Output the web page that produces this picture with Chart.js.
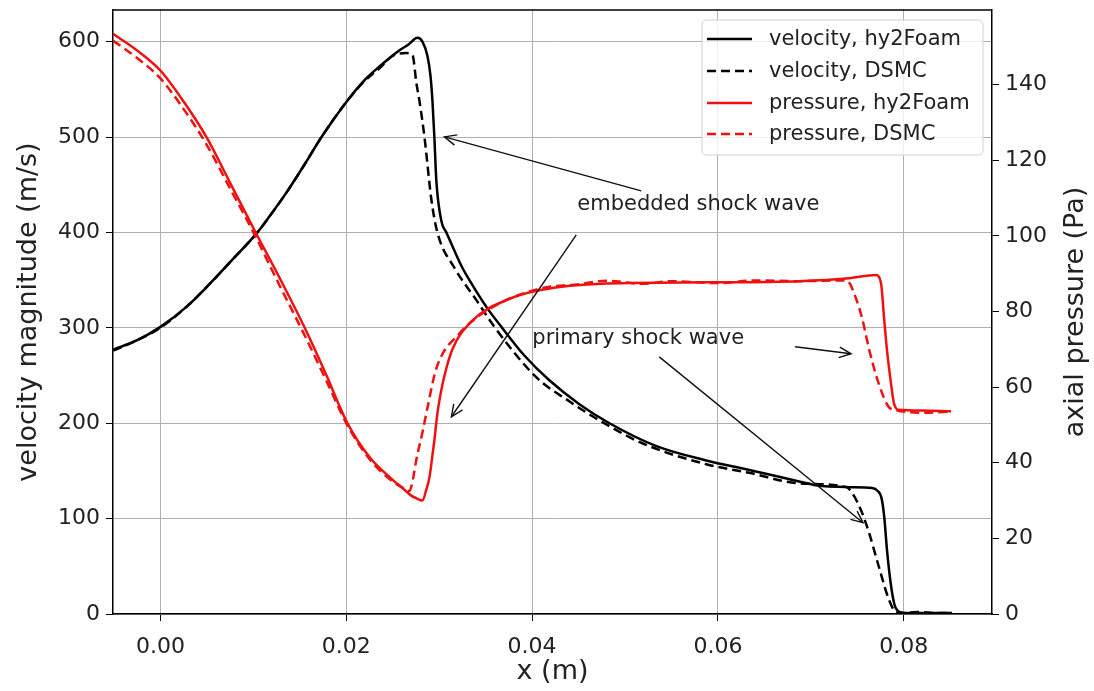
<!DOCTYPE html>
<html>
<head>
<meta charset="utf-8">
<script src="https://cdn.jsdelivr.net/npm/chart.js@4.4.1/dist/chart.umd.min.js"></script>
<style>
html,body{margin:0;padding:0;background:#fff;}
canvas{display:block;}
</style>
</head>
<body>
<canvas id="c" width="1094" height="691"></canvas>
<script>
// ---- data ----
const xTicks = [0.00, 0.02, 0.04, 0.06, 0.08];
const velocityTicks = [0, 100, 200, 300, 400, 500, 600];
const pressureTicks = [0, 20, 40, 60, 80, 100, 120, 140];

const velHyX = [-0.0051, -0.0025, 0.0, 0.0028, 0.0053, 0.0078, 0.01035, 0.01175, 0.01358, 0.0155, 0.01734, 0.02003, 0.0220, 0.02358, 0.0248, 0.02573, 0.0267, 0.02767, 0.0282, 0.02874, 0.02906, 0.02928, 0.02949, 0.0297, 0.03024, 0.03078, 0.03164, 0.0325, 0.03326, 0.03508, 0.0367, 0.03917, 0.04186, 0.04509, 0.04833, 0.05339, 0.05874, 0.06337, 0.06874, 0.07057, 0.07411, 0.07659, 0.0772, 0.0776, 0.0779, 0.0782, 0.0786, 0.0790, 0.0793, 0.0796, 0.0800, 0.0815, 0.0835, 0.0852];
const velHyY = [277, 287, 301, 322, 346, 372, 399, 417, 442, 471, 500, 537, 560, 574, 584, 591, 597, 604, 600, 585, 565, 538, 499, 454, 412, 400, 381, 363, 350, 322, 301, 271, 245, 220, 200, 176, 161, 151, 139, 135, 133, 132, 129, 122, 102, 67, 32, 10, 4, 2, 1, 1, 1, 1];

const velDsX = [-0.0051, -0.0025, 0.0, 0.0028, 0.0053, 0.0078, 0.01035, 0.01175, 0.01358, 0.0155, 0.01734, 0.02003, 0.0220, 0.02358, 0.02497, 0.02648, 0.02713, 0.02756, 0.02788, 0.02842, 0.02917, 0.02981, 0.03164, 0.03401, 0.03595, 0.04047, 0.0440, 0.04724, 0.05186, 0.05874, 0.06337, 0.06874, 0.0738, 0.07445, 0.07552, 0.07627, 0.07734, 0.07841, 0.07917, 0.0800, 0.0815, 0.0835, 0.0852];
const velDsY = [276, 287, 300, 322, 346, 372, 399, 417, 442, 471, 500, 537, 559, 572, 585, 588, 586, 556, 538, 500, 434, 400, 363, 329, 301, 248, 223, 203, 179, 157, 148, 137, 133, 127, 106, 85, 49, 15, 2, 1, 2, 1, 1];

const presHyX = [-0.0051, -0.0025, 0.0, 0.0025, 0.00498, 0.0075, 0.01014, 0.0128, 0.01551, 0.0178, 0.02014, 0.0225, 0.02466, 0.0262, 0.0270, 0.02756, 0.0282, 0.02863, 0.02895, 0.02928, 0.02949, 0.02981, 0.03014, 0.03057, 0.03143, 0.03358, 0.03724, 0.04078, 0.04799, 0.05874, 0.06874, 0.0738, 0.07627, 0.07702, 0.07756, 0.07788, 0.0782, 0.07863, 0.07895, 0.07949, 0.0820, 0.08509];
const presHyY = [153.4, 149.0, 143.7, 135.5, 126.0, 114.0, 101.4, 89.0, 75.8, 63.5, 50.4, 41.5, 36.2, 33.0, 31.3, 30.6, 30.0, 33.0, 36.0, 42.0, 46.0, 53.0, 58.0, 63.0, 70.0, 77.6, 83.0, 85.6, 87.4, 87.7, 88.0, 88.7, 89.5, 89.6, 87.4, 78.4, 69.7, 61.0, 55.7, 54.0, 53.8, 53.6];

const presDsX = [-0.0051, -0.0025, 0.0, 0.0025, 0.0050, 0.0075, 0.0101, 0.0128, 0.0155, 0.0178, 0.0201, 0.0225, 0.0247, 0.0262, 0.02681, 0.02713, 0.02756, 0.0282, 0.02874, 0.02971, 0.0322, 0.03573, 0.0408, 0.0450, 0.0480, 0.0520, 0.0550, 0.0600, 0.0640, 0.0688, 0.0738, 0.0741, 0.0744, 0.0755, 0.0763, 0.0773, 0.0784, 0.0792, 0.0820, 0.0851];
const presDsY = [151.6, 147.0, 141.6, 133.5, 124.0, 112.5, 100.5, 87.0, 73.8, 62.0, 50.0, 41.0, 35.6, 33.2, 32.5, 35.0, 41.0, 48.0, 54.5, 65.0, 74.2, 81.1, 86.0, 87.2, 88.1, 87.3, 88.0, 87.5, 88.2, 88.0, 88.2, 87.7, 86.4, 78.4, 69.7, 61.0, 54.7, 53.9, 53.2, 53.5];

const seriesNames = ['velocity, hy2Foam', 'velocity, DSMC', 'pressure, hy2Foam', 'pressure, DSMC'];

// annotation anchors in data units (x in m, y in velocity units)
const annotations = [
  { text: 'embedded shock wave', x: 0.04487, y: 428.9,
    arrows: [[0.05175, 443.6, 0.03057, 500.2], [0.04476, 397.5, 0.03132, 206.8]] },
  { text: 'primary shock wave', x: 0.04003, y: 288.5,
    arrows: [[0.05369, 269.6, 0.07562, 95.7], [0.06831, 280.1, 0.07433, 272.8]] }
];

// ---- styling ----
const FONT = 'DejaVu Sans';
const RED = '#f01010';
const DASH = [9, 5];
const pts = (xs, ys) => xs.map((x, i) => ({ x: x, y: ys[i] }));

const framePlugin = {
  id: 'frame',
  afterDatasetsDraw(chart) {
    const ctx = chart.ctx;
    const xs = chart.scales.x, ys = chart.scales.y;
    ctx.save();
    ctx.strokeStyle = '#111';
    ctx.fillStyle = '#222';
    ctx.lineWidth = 1.4;
    ctx.font = '21px "' + FONT + '"';
    ctx.textBaseline = 'middle';
    ctx.textAlign = 'left';
    annotations.forEach(a => {
      ctx.fillText(a.text, xs.getPixelForValue(a.x), ys.getPixelForValue(a.y));
      a.arrows.forEach(ar => {
        const x0 = xs.getPixelForValue(ar[0]), y0 = ys.getPixelForValue(ar[1]);
        const x1 = xs.getPixelForValue(ar[2]), y1 = ys.getPixelForValue(ar[3]);
        ctx.beginPath(); ctx.moveTo(x0, y0); ctx.lineTo(x1, y1); ctx.stroke();
        const ang = Math.atan2(y1 - y0, x1 - x0), L = 13, w = 0.42;
        ctx.beginPath();
        ctx.moveTo(x1 - L * Math.cos(ang - w), y1 - L * Math.sin(ang - w));
        ctx.lineTo(x1, y1);
        ctx.lineTo(x1 - L * Math.cos(ang + w), y1 - L * Math.sin(ang + w));
        ctx.stroke();
      });
    });
    // top spine
    const ca = chart.chartArea;
    ctx.strokeStyle = '#000';
    ctx.lineWidth = 1.5;
    ctx.beginPath(); ctx.moveTo(ca.left, ca.top); ctx.lineTo(ca.right, ca.top); ctx.stroke();
    ctx.restore();
  },
  afterDraw(chart) {
    const ctx = chart.ctx;
    ctx.save();
    // right axis title (reads bottom to top)
    ctx.fillStyle = '#222';
    ctx.font = '27px "' + FONT + '"';
    ctx.textAlign = 'center';
    ctx.textBaseline = 'middle';
    ctx.translate(1076, 312);
    ctx.rotate(-Math.PI / 2);
    ctx.fillText('axial pressure (Pa)', 0, 0);
    ctx.restore();

    // legend
    ctx.save();
    const bx = 702, by = 20, bw = 281, bh = 135, r = 5;
    ctx.beginPath();
    ctx.moveTo(bx + r, by); ctx.lineTo(bx + bw - r, by); ctx.quadraticCurveTo(bx + bw, by, bx + bw, by + r);
    ctx.lineTo(bx + bw, by + bh - r); ctx.quadraticCurveTo(bx + bw, by + bh, bx + bw - r, by + bh);
    ctx.lineTo(bx + r, by + bh); ctx.quadraticCurveTo(bx, by + bh, bx, by + bh - r);
    ctx.lineTo(bx, by + r); ctx.quadraticCurveTo(bx, by, bx + r, by);
    ctx.closePath();
    ctx.fillStyle = 'rgba(255,255,255,0.8)';
    ctx.fill();
    ctx.strokeStyle = '#d0d0d0';
    ctx.lineWidth = 1;
    ctx.stroke();
    const rows = [39, 71, 103, 134];
    chart.data.datasets.forEach((ds, i) => {
      ctx.strokeStyle = ds.borderColor;
      ctx.lineWidth = 2.5;
      ctx.setLineDash(ds.borderDash || []);
      ctx.beginPath(); ctx.moveTo(707, rows[i]); ctx.lineTo(752, rows[i]); ctx.stroke();
      ctx.setLineDash([]);
      ctx.fillStyle = '#222';
      ctx.font = '21px "' + FONT + '"';
      ctx.textAlign = 'left';
      ctx.textBaseline = 'middle';
      ctx.fillText(ds.label, 769, rows[i] + 1);
    });
    ctx.restore();
  }
};

const common = { pointRadius: 0, borderWidth: 2.5, fill: false, showLine: true, cubicInterpolationMode: 'monotone' };
const noPadY = s => { s.paddingTop = 0; s.paddingBottom = 0; };

new Chart(document.getElementById('c'), {
  type: 'scatter',
  data: {
    datasets: [
      Object.assign({ label: seriesNames[0], data: pts(velHyX, velHyY), borderColor: '#000', yAxisID: 'y', order: 2 }, common),
      Object.assign({ label: seriesNames[1], data: pts(velDsX, velDsY), borderColor: '#000', borderDash: DASH, yAxisID: 'y', order: 3 }, common),
      Object.assign({ label: seriesNames[2], data: pts(presHyX, presHyY), borderColor: RED, yAxisID: 'y2', order: 0 }, common),
      Object.assign({ label: seriesNames[3], data: pts(presDsX, presDsY), borderColor: RED, borderDash: DASH, yAxisID: 'y2', order: 1 }, common)
    ]
  },
  options: {
    responsive: false,
    animation: false,
    devicePixelRatio: 1,
    layout: { padding: { top: 10, left: 0, right: 0, bottom: 0 } },
    plugins: { legend: { display: false }, tooltip: { enabled: false } },
    scales: {
      x: {
        type: 'linear', position: 'bottom', min: -0.0051, max: 0.0895,
        afterBuildTicks: s => { s.ticks = xTicks.map(v => ({ value: v })); },
        afterFit: s => { s.height = 77; s.paddingLeft = 0; s.paddingRight = 0; },
        ticks: { autoSkip: false, maxRotation: 0, padding: 13, color: '#222',
                 font: { family: FONT, size: 22 }, callback: v => Number(v).toFixed(2) },
        grid: { color: '#b0b0b0', lineWidth: 1, tickLength: 7, tickColor: '#000' },
        border: { color: '#000', width: 1.5 },
        title: { display: true, text: 'x (m)', color: '#222', font: { family: FONT, size: 27 }, padding: { top: 0, bottom: 3 } }
      },
      y: {
        type: 'linear', position: 'left', min: 0, max: 633.2,
        afterBuildTicks: s => { s.ticks = velocityTicks.map(v => ({ value: v })); },
        afterFit: s => { s.width = 113; noPadY(s); },
        ticks: { autoSkip: false, padding: 6, color: '#222', font: { family: FONT, size: 22 } },
        grid: { color: '#b0b0b0', lineWidth: 1, tickLength: 7, tickColor: '#000' },
        border: { color: '#000', width: 1.5 },
        title: { display: true, text: 'velocity magnitude (m/s)', color: '#222', font: { family: FONT, size: 27 }, padding: { top: 13, bottom: 0 } }
      },
      y2: {
        type: 'linear', position: 'right', min: 0, max: 159.7,
        afterBuildTicks: s => { s.ticks = pressureTicks.map(v => ({ value: v })); },
        afterFit: s => { s.width = 102; noPadY(s); },
        ticks: { autoSkip: false, padding: 6, color: '#222', font: { family: FONT, size: 22 } },
        grid: { drawOnChartArea: false, tickLength: 7, tickColor: '#000' },
        border: { color: '#000', width: 1.5 }
      }
    }
  },
  plugins: [framePlugin]
});
</script>
</body>
</html>
